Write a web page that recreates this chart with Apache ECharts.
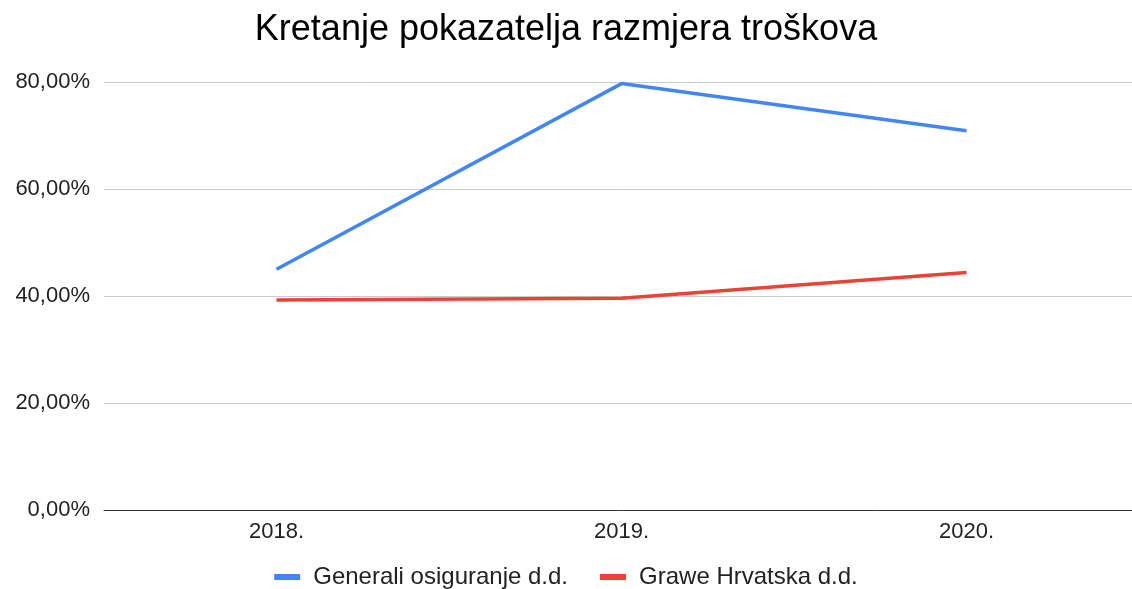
<!DOCTYPE html>
<html>
<head>
<meta charset="utf-8">
<script src="https://cdn.jsdelivr.net/npm/echarts@6/dist/echarts.min.js"></script>
<style>
  html, body { margin: 0; padding: 0; background: #fff; }
  #main { width: 1132px; height: 589px; }
</style>
</head>
<body>
<div id="main"></div>
<script>
const years = ['2018.', '2019.', '2020.'];
const generali = [45.0, 79.7, 70.9];
const grawe = [39.25, 39.6, 44.4];
const seriesNames = ['Generali osiguranje d.d.', 'Grawe Hrvatska d.d.'];

let myChart = echarts.init(document.getElementById('main'));
myChart.setOption({
    animation: false,
    textStyle: { fontFamily: 'Liberation Sans, Arial, sans-serif' },
    title: {
        text: 'Kretanje pokazatelja razmjera troškova',
        left: 'center',
        top: 7,
        textStyle: {
            fontSize: 36,
            fontWeight: 'normal',
            color: '#000'
        }
    },
    legend: {
        top: 565,
        left: 'center',
        padding: 0,
        itemWidth: 26,
        itemHeight: 6,
        itemGap: 32,
        icon: 'rect',
        textStyle: { fontSize: 24, color: '#222', padding: [0, 0, 0, 8] },
        data: seriesNames
    },
    grid: {
        left: 104,
        width: 1035,
        top: 82,
        bottom: 79,
        outerBoundsMode: 'none'
    },
    xAxis: {
        type: 'category',
        data: years,
        boundaryGap: true,
        axisLine: { lineStyle: { color: '#333', width: 1 } },
        axisTick: { show: false },
        axisLabel: { fontSize: 22, color: '#222', margin: 11 }
    },
    yAxis: {
        type: 'value',
        min: 0,
        max: 80,
        interval: 20,
        axisLine: { show: false },
        axisTick: { show: false },
        splitLine: { lineStyle: { color: '#ccc', width: 1 } },
        axisLabel: {
            fontSize: 22,
            color: '#222',
            margin: 14,
            formatter: function (v) {
                return v.toFixed(2).replace('.', ',') + '%';
            }
        }
    },
    series: [{
        name: seriesNames[0],
        type: 'line',
        data: generali,
        symbol: 'none',
        color: '#4285F4',
        lineStyle: { width: 3.5 }
    }, {
        name: seriesNames[1],
        type: 'line',
        data: grawe,
        symbol: 'none',
        color: '#EA4335',
        lineStyle: { width: 3.5 }
    }]
});
</script>
</body>
</html>
